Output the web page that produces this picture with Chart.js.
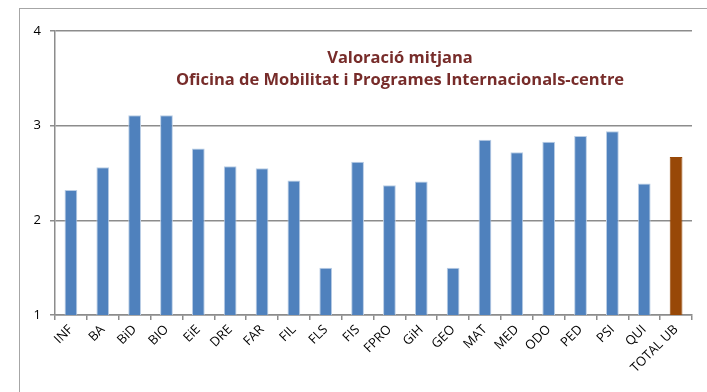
<!DOCTYPE html>
<html>
<head>
<meta charset="utf-8">
<script src="https://cdn.jsdelivr.net/npm/chart.js@4/dist/chart.umd.min.js"></script>
<style>
  html, body { margin: 0; padding: 0; background: #fff; }
  #wrap { position: relative; width: 707px; height: 392px; overflow: hidden; }
  #frame { position: absolute; left: 19px; top: 8px; width: 720px; height: 400px;
           border-left: 1.5px solid #a6a6a6; border-top: 1.5px solid #a6a6a6; box-sizing: border-box; }
  canvas { position: absolute; left: 0; top: 0; }
</style>
</head>
<body>
<div id="wrap">
  <div id="frame"></div>
  <canvas id="c" width="707" height="392"></canvas>
</div>
<script>
const categories = ['INF','BA','BiD','BIO','EiE','DRE','FAR','FIL','FLS','FIS','FPRO','GiH','GEO','MAT','MED','ODO','PED','PSI','QUI','TOTAL UB'];
const meanScores = [2.32, 2.56, 3.11, 3.11, 2.76, 2.57, 2.55, 2.42, 1.50, 2.62, 2.37, 2.41, 1.50, 2.85, 2.72, 2.83, 2.89, 2.94, 2.39, 2.67];
const yTicks = [1, 2, 3, 4];
const titleLines = ['Valoració mitjana', 'Oficina de Mobilitat i Programes Internacionals-centre'];

const barColors = categories.map(c => c === 'TOTAL UB' ? '#984807' : '#4f81bd');
const barBorders = categories.map(c => c === 'TOTAL UB' ? '#984807' : '#b9cde5');

const font = '"Open Sans", "Liberation Sans", sans-serif';

// Title sits inside the plotting area, above the bars
const innerTitle = {
  id: 'innerTitle',
  afterDraw(chart) {
    const { ctx, chartArea } = chart;
    ctx.save();
    ctx.fillStyle = '#772c2a';
    ctx.font = 'bold 16.5px ' + font;
    ctx.textAlign = 'center';
    ctx.textBaseline = 'middle';
    const cx = 400;
    ctx.fillText(titleLines[0], cx, chartArea.top + 27);
    ctx.fillText(titleLines[1], cx, chartArea.top + 49);
    ctx.restore();
  }
};

new Chart(document.getElementById('c'), {
  type: 'bar',
  data: {
    labels: categories,
    datasets: [{
      data: meanScores,
      backgroundColor: barColors,
      borderColor: barBorders,
      borderWidth: { left: 1, right: 1, top: 1, bottom: 0 },
      barPercentage: 0.4,
      categoryPercentage: 1.0
    }]
  },
  options: {
    responsive: false,
    animation: false,
    devicePixelRatio: 1,
    layout: { padding: { top: 31, right: 15, left: 0, bottom: 0 } },
    plugins: { legend: { display: false }, tooltip: { enabled: false }, title: { display: false } },
    scales: {
      x: {
        offset: true,
        grid: { display: true, drawOnChartArea: false, drawTicks: true, tickLength: 5, offset: true, color: '#8c8c8c', lineWidth: 1.5 },
        border: { display: true, color: '#8c8c8c', width: 1.5 },
        ticks: { color: '#000', font: { family: font, size: 13 }, maxRotation: 45, minRotation: 45, autoSkip: false, padding: 2 },
        afterFit(scale) { scale.height = 77; }
      },
      y: {
        min: 1, max: 4,
        afterBuildTicks(scale) { scale.ticks = yTicks.map(v => ({ value: v })); },
        grid: { color: '#8c8c8c', lineWidth: 1.5, drawTicks: true, tickLength: 5 },
        border: { display: true, color: '#8c8c8c', width: 1.5 },
        ticks: { color: '#000', font: { family: font, size: 13 }, padding: 9 },
        afterFit(scale) { scale.width = 55; }
      }
    }
  },
  plugins: [innerTitle]
});
</script>
</body>
</html>
